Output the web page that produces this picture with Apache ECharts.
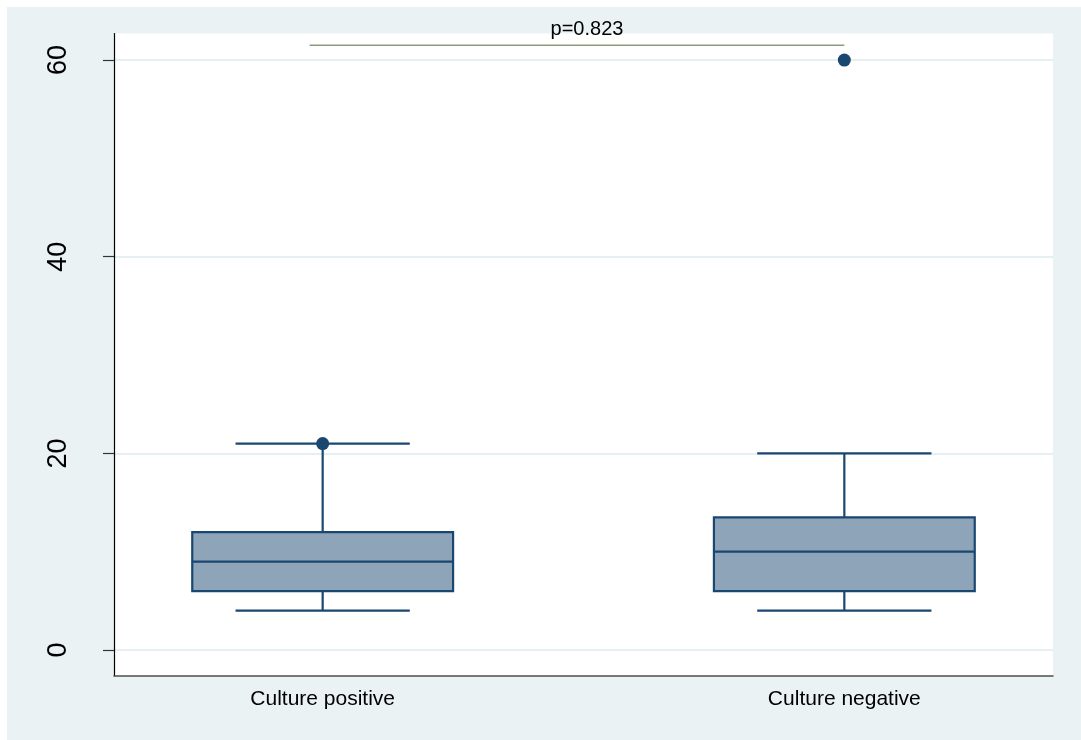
<!DOCTYPE html>
<html>
<head>
<meta charset="utf-8">
<script src="https://cdn.jsdelivr.net/npm/echarts@6/dist/echarts.min.js"></script>
<style>
html,body{margin:0;padding:0;background:#ffffff;}
#wrap{position:relative;width:1081px;height:740px;background:#ffffff;overflow:hidden;}
#bg{position:absolute;left:7px;top:7px;width:1074px;height:733px;background:#EAF2F3;}
#chart{position:absolute;left:0;top:0;width:1081px;height:740px;}
</style>
</head>
<body>
<div id="wrap"><div id="bg"></div><div id="chart"></div></div>
<script>
// ---- data ----
const categories = ['Culture positive', 'Culture negative'];
const lowerWhisker = [4, 4];
const q1 = [6, 6];
const median = [9, 10];
const q3 = [12, 13.5];
const upperWhisker = [21, 20];
const outliers = [[1, 21], [2, 60]];   // [category position, value]
const yTicks = [0, 20, 40, 60];
const pLabel = 'p=0.823';
const pBracketY = 61.5;
const pBracketFrom = 0.975;
const pBracketTo = 2.0;

// ---- style ----
const navy = '#1a476f';
const boxFill = '#8ea4b8';
const boxHalf = 0.25;
const capHalf = 0.167;

const boxData = categories.map((c, i) => [i + 1, lowerWhisker[i], q1[i], median[i], q3[i], upperWhisker[i]]);

const chart = echarts.init(document.getElementById('chart'), null, {renderer: 'canvas'});
chart.setOption({
  backgroundColor: 'transparent',
  animation: false,
  grid: {left: 114, right: 28, top: 33.5, bottom: 64, show: true, backgroundColor: '#ffffff', borderWidth: 0},
  xAxis: {
    type: 'value', min: 0.6, max: 2.4,
    splitLine: {show: false},
    axisLine: {show: true, onZero: false, lineStyle: {color: '#4d4d4d', width: 1.5}},
    axisTick: {show: false, customValues: [1, 2]},
    axisLabel: {
      customValues: [1, 2],
      formatter: v => categories[Math.round(v) - 1] || '',
      fontFamily: 'Liberation Sans, Arial, sans-serif', fontSize: 21, color: '#000', margin: 13
    }
  },
  yAxis: {
    type: 'value', min: -2.64, max: 62.7,
    axisLine: {show: true, onZero: false, lineStyle: {color: '#000', width: 1.2}},
    axisTick: {show: true, customValues: yTicks, length: 11, lineStyle: {color: '#333', width: 1.2}},
    axisLabel: {
      customValues: yTicks, rotate: 90, margin: 42,
      fontFamily: 'Liberation Sans, Arial, sans-serif', fontSize: 27, color: '#000'
    },
    splitLine: {show: true, lineStyle: {color: '#E6EFF1', width: 2}}
  },
  series: [
    {
      type: 'custom',
      data: boxData,
      encode: {x: 0, y: [1, 2, 3, 4, 5]},
      z: 3,
      renderItem: function (params, api) {
        const x = api.value(0);
        const lw = api.coord([x, api.value(1)]);
        const b1 = api.coord([x, api.value(2)]);
        const md = api.coord([x, api.value(3)]);
        const b3 = api.coord([x, api.value(4)]);
        const uw = api.coord([x, api.value(5)]);
        const left = api.coord([x - boxHalf, 0])[0];
        const right = api.coord([x + boxHalf, 0])[0];
        const cl = api.coord([x - capHalf, 0])[0];
        const cr = api.coord([x + capHalf, 0])[0];
        const ls = {stroke: navy, lineWidth: 2.2, fill: null};
        return {
          type: 'group',
          children: [
            {type: 'line', shape: {x1: lw[0], y1: lw[1], x2: lw[0], y2: b1[1]}, style: ls},
            {type: 'line', shape: {x1: uw[0], y1: uw[1], x2: uw[0], y2: b3[1]}, style: ls},
            {type: 'line', shape: {x1: cl, y1: lw[1], x2: cr, y2: lw[1]}, style: ls},
            {type: 'line', shape: {x1: cl, y1: uw[1], x2: cr, y2: uw[1]}, style: ls},
            {type: 'rect', shape: {x: left, y: b3[1], width: right - left, height: b1[1] - b3[1]},
              style: {fill: boxFill, stroke: navy, lineWidth: 2.2}},
            {type: 'line', shape: {x1: left, y1: md[1], x2: right, y2: md[1]}, style: ls}
          ]
        };
      }
    },
    {
      type: 'scatter',
      data: outliers,
      symbol: 'circle',
      symbolSize: 13,
      z: 5,
      itemStyle: {color: navy, opacity: 1}
    },
    {
      type: 'custom',
      data: [[pBracketFrom, pBracketTo, pBracketY]],
      encode: {x: [0, 1], y: 2},
      clip: false,
      z: 4,
      renderItem: function (params, api) {
        const a = api.coord([api.value(0), api.value(2)]);
        const b = api.coord([api.value(1), api.value(2)]);
        const mid = (a[0] + b[0]) / 2;
        return {
          type: 'group',
          children: [
            {type: 'line', shape: {x1: a[0], y1: a[1], x2: b[0], y2: b[1]}, style: {stroke: '#8d9b7d', lineWidth: 1.5}},
            {type: 'text', style: {text: pLabel, x: mid + 10, y: a[1] - 6, align: 'center', verticalAlign: 'bottom',
              font: '20px "Liberation Sans", Arial, sans-serif', fill: '#000'}}
          ]
        };
      }
    }
  ]
});
</script>
</body>
</html>
